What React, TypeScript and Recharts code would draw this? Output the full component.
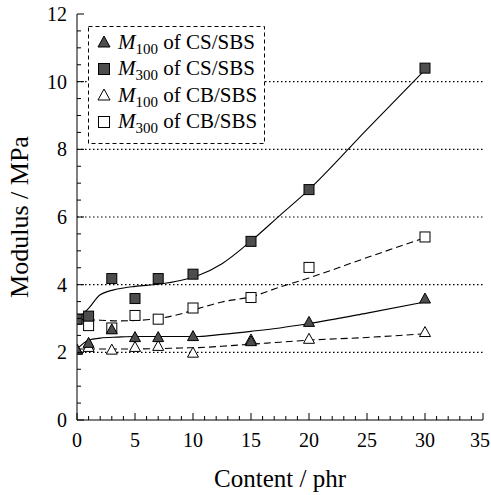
import React from "react";
import {
  ComposedChart,
  Line,
  Scatter,
  XAxis,
  YAxis,
  ReferenceLine,
  Legend,
} from "recharts";

// measured points (content in phr)
const contentPhr = [0, 1, 3, 5, 7, 10, 15, 20, 30];
const m100CS = [2.08, 2.28, 2.68, 2.45, 2.45, 2.48, 2.33, 2.9, 3.59];
const m300CS = [2.98, 3.07, 4.18, 3.59, 4.18, 4.31, 5.28, 6.81, 10.4];
const m100CB = [2.08, 2.16, 2.08, 2.16, 2.19, 1.99, 2.38, 2.4, 2.6];
const m300CB = [2.98, 2.79, 2.72, 3.09, 2.98, 3.31, 3.62, 4.51, 5.41];

// fitted curves
const fitPhr = [0, 1, 2, 3.5, 5, 7, 9, 10.5, 12.5, 15, 17.5, 20, 25, 30];
const fitM100CS = [2.1, 2.36, 2.42, 2.45, 2.47, 2.47, 2.47, 2.47, 2.53, 2.62, 2.72, 2.85, 3.16, 3.49];
const fitM300CS = [2.98, 3.3, 3.7, 3.87, 3.95, 4.01, 4.13, 4.28, 4.62, 5.29, 6.05, 6.81, 8.59, 10.35];
const fitM100CB = [2.1, 2.1, 2.1, 2.1, 2.1, 2.11, 2.13, 2.14, 2.18, 2.24, 2.3, 2.36, 2.44, 2.55];
const fitM300CB = [2.98, 2.96, 2.95, 2.93, 2.94, 3.0, 3.14, 3.3, 3.49, 3.64, 3.93, 4.2, 4.8, 5.39];

const gridValues = [2, 4, 6, 8, 10];

const FONT = "Liberation Serif";
const DARK = "#4d4d4d";

const toPoints = (xs: number[], ys: number[]) =>
  xs.map((x, i) => ({ x, y: ys[i] }));

// tick positions incl. minor ones
const steps = (from: number, to: number, step: number) => {
  const out: number[] = [];
  for (let v = from; v <= to + 1e-9; v += step) out.push(Math.round(v * 100) / 100);
  return out;
};
const xAllTicks = steps(0, 35, 1);
const yAllTicks = steps(0, 12, 0.5);

type MarkerKind = "triangle" | "square";

const Marker = ({ cx, cy, kind, filled, size = 10 }: any) => {
  const fill = filled ? DARK : "#fff";
  const h = size / 2;
  if (kind === "square") {
    return (
      <rect x={cx - h} y={cy - h} width={size} height={size} fill={fill} stroke="#000" strokeWidth={1} />
    );
  }
  return (
    <polygon
      points={`${cx},${cy - h - 0.5} ${cx - h - 0.5},${cy + h - 0.5} ${cx + h + 0.5},${cy + h - 0.5}`}
      fill={fill}
      stroke="#000"
      strokeWidth={1}
    />
  );
};

const legendItems: { num: string; mat: string; kind: MarkerKind; filled: boolean }[] = [
  { num: "100", mat: "CS/SBS", kind: "triangle", filled: true },
  { num: "300", mat: "CS/SBS", kind: "square", filled: true },
  { num: "100", mat: "CB/SBS", kind: "triangle", filled: false },
  { num: "300", mat: "CB/SBS", kind: "square", filled: false },
];

const LegendBox = () => (
  <div
    style={{
      position: "relative",
      background: "#fff",
      width: 177,
      height: 118,
      fontFamily: FONT,
      color: "#000",
    }}
  >
    <svg width={177} height={118} style={{ position: "absolute", left: 0, top: 0 }}>
      <rect x={0.5} y={0.5} width={176} height={117} fill="none" stroke="#000" strokeDasharray="4 3" />
    </svg>
    <div style={{ position: "absolute", left: 8, top: 3 }}>
      {legendItems.map((it, i) => (
        <div key={i} style={{ display: "flex", alignItems: "center", height: 26.5 }}>
          <svg width={16} height={16} style={{ marginRight: 6 }}>
            <Marker cx={8} cy={8} kind={it.kind} filled={it.filled} size={11} />
          </svg>
          <span style={{ fontSize: 21, whiteSpace: "nowrap", fontFamily: FONT }}>
            <i>M</i>
            <span style={{ fontSize: 15, position: "relative", top: 5 }}>{it.num}</span> of {it.mat}
          </span>
        </div>
      ))}
    </div>
  </div>
);

const XTick = ({ x, y, payload, side }: any) => {
  const v = payload.value;
  const major = v % 5 === 0;
  const len = major ? 7 : 4;
  const dir = side === "bottom" ? -1 : 1;
  // last label sits on the chart edge, keep it inside
  const last = v === 35;
  return (
    <g>
      <line x1={x} y1={y} x2={x} y2={y + dir * len} stroke="#000" strokeWidth={1} />
      {side === "bottom" && major && (
        <text
          x={last ? x + 7 : x}
          y={y + 27}
          textAnchor={last ? "end" : "middle"}
          style={{ fontFamily: FONT, fontSize: 20 }}
          fill="#000"
        >
          {v}
        </text>
      )}
    </g>
  );
};

const YTick = ({ x, y, payload, side }: any) => {
  const v = payload.value;
  const major = v % 2 === 0;
  const len = major ? 7 : 4;
  const dir = side === "left" ? 1 : -1;
  return (
    <g>
      <line x1={x} y1={y} x2={x + dir * len} y2={y} stroke="#000" strokeWidth={1} />
      {side === "left" && major && (
        <text x={x - 10} y={y} dy="0.35em" textAnchor="end" style={{ fontFamily: FONT, fontSize: 20 }} fill="#000">
          {v}
        </text>
      )}
    </g>
  );
};

export default function App() {
  return (
    <div style={{ position: "absolute", left: 0, top: 0, background: "#fff", fontFamily: FONT }}>
      <ComposedChart
        width={491}
        height={495}
        margin={{ top: 14, right: 8, bottom: 0, left: 0 }}
        style={{ fontFamily: FONT }}
      >
        <XAxis
          xAxisId="bottom"
          dataKey="x"
          type="number"
          domain={[0, 35]}
          allowDataOverflow
          ticks={xAllTicks}
          interval={0}
          height={75}
          tickSize={0}
          tickMargin={0}
          tickLine={false}
          axisLine={{ stroke: "#000" }}
          tick={(p: any) => <XTick {...p} side="bottom" />}
          label={{
            value: "Content / phr",
            position: "insideBottom",
            offset: 8,
            style: { fontFamily: FONT, fontSize: 25, fill: "#000" },
          }}
        />
        <XAxis
          xAxisId="top"
          orientation="top"
          type="number"
          domain={[0, 35]}
          allowDataOverflow
          ticks={xAllTicks}
          interval={0}
          height={0}
          tickSize={0}
          tickMargin={0}
          tickLine={false}
          axisLine={{ stroke: "#000" }}
          tick={(p: any) => <XTick {...p} side="top" />}
        />
        <YAxis
          yAxisId="left"
          dataKey="y"
          type="number"
          domain={[0, 12]}
          allowDataOverflow
          ticks={yAllTicks}
          interval={0}
          width={77}
          tickSize={0}
          tickMargin={0}
          tickLine={false}
          axisLine={{ stroke: "#000" }}
          tick={(p: any) => <YTick {...p} side="left" />}
          label={{
            value: "Modulus / MPa",
            angle: -90,
            position: "insideLeft",
            offset: 19,
            style: { fontFamily: FONT, fontSize: 26, fill: "#000", textAnchor: "middle" },
          }}
        />
        <YAxis
          yAxisId="right"
          orientation="right"
          type="number"
          domain={[0, 12]}
          allowDataOverflow
          ticks={yAllTicks}
          interval={0}
          width={0}
          tickSize={0}
          tickMargin={0}
          tickLine={false}
          axisLine={{ stroke: "#000" }}
          tick={(p: any) => <YTick {...p} side="right" />}
        />

        {gridValues.map((v) => (
          <ReferenceLine
            key={v}
            xAxisId="bottom"
            yAxisId="left"
            y={v}
            stroke="#000"
            strokeWidth={1.1}
            strokeDasharray="1.5 2.5"
          />
        ))}

        <Line
          xAxisId="bottom"
          yAxisId="left"
          data={toPoints(fitPhr, fitM100CB)}
          dataKey="y"
          type="monotone"
          stroke="#000"
          strokeWidth={1.1}
          strokeDasharray="7 4"
          dot={false}
          activeDot={false}
          isAnimationActive={false}
          legendType="none"
        />
        <Line
          xAxisId="bottom"
          yAxisId="left"
          data={toPoints(fitPhr, fitM300CB)}
          dataKey="y"
          type="monotone"
          stroke="#000"
          strokeWidth={1.1}
          strokeDasharray="7 4"
          dot={false}
          activeDot={false}
          isAnimationActive={false}
          legendType="none"
        />
        <Line
          xAxisId="bottom"
          yAxisId="left"
          data={toPoints(fitPhr, fitM100CS)}
          dataKey="y"
          type="monotone"
          stroke="#000"
          strokeWidth={1.1}
          dot={false}
          activeDot={false}
          isAnimationActive={false}
          legendType="none"
        />
        <Line
          xAxisId="bottom"
          yAxisId="left"
          data={toPoints(fitPhr, fitM300CS)}
          dataKey="y"
          type="monotone"
          stroke="#000"
          strokeWidth={1.1}
          dot={false}
          activeDot={false}
          isAnimationActive={false}
          legendType="none"
        />

        <Scatter
          xAxisId="bottom"
          yAxisId="left"
          data={toPoints(contentPhr, m300CB)}
          shape={(p: any) => <Marker cx={p.cx} cy={p.cy} kind="square" filled={false} />}
          isAnimationActive={false}
        />
        <Scatter
          xAxisId="bottom"
          yAxisId="left"
          data={toPoints(contentPhr, m100CB)}
          shape={(p: any) => <Marker cx={p.cx} cy={p.cy} kind="triangle" filled={false} />}
          isAnimationActive={false}
        />
        <Scatter
          xAxisId="bottom"
          yAxisId="left"
          data={toPoints(contentPhr, m300CS)}
          shape={(p: any) => <Marker cx={p.cx} cy={p.cy} kind="square" filled />}
          isAnimationActive={false}
        />
        <Scatter
          xAxisId="bottom"
          yAxisId="left"
          data={toPoints(contentPhr, m100CS)}
          shape={(p: any) => <Marker cx={p.cx} cy={p.cy} kind="triangle" filled />}
          isAnimationActive={false}
        />

        <Legend
          layout="vertical"
          align="center"
          verticalAlign="middle"
          wrapperStyle={{ left: 88, top: 26, width: 177, height: 118 }}
          content={() => <LegendBox />}
        />
      </ComposedChart>
    </div>
  );
}
